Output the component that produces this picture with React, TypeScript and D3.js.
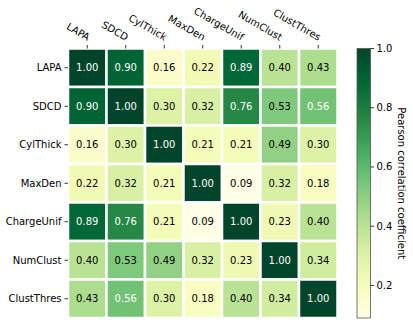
import * as d3 from "d3";

const labels = ["LAPA", "SDCD", "CylThick", "MaxDen", "ChargeUnif", "NumClust", "ClustThres"];

const lapa = [1.0, 0.9, 0.16, 0.22, 0.89, 0.4, 0.43];
const sdcd = [0.9, 1.0, 0.3, 0.32, 0.76, 0.53, 0.56];
const cylThick = [0.16, 0.3, 1.0, 0.21, 0.21, 0.49, 0.3];
const maxDen = [0.22, 0.32, 0.21, 1.0, 0.09, 0.32, 0.18];
const chargeUnif = [0.89, 0.76, 0.21, 0.09, 1.0, 0.23, 0.4];
const numClust = [0.4, 0.53, 0.49, 0.32, 0.23, 1.0, 0.34];
const clustThres = [0.43, 0.56, 0.3, 0.18, 0.4, 0.34, 1.0];

const rows = [lapa, sdcd, cylThick, maxDen, chargeUnif, numClust, clustThres];

const cbarTicks = [0.2, 0.4, 0.6, 0.8, 1.0];
const cbarLabel = "Pearson correlation coefficient";

// matplotlib YlGn stops
const ylgn = ["#ffffe5", "#f7fcb9", "#d9f0a3", "#addd8e", "#78c679", "#41ab5d", "#238443", "#006837", "#004529"];

const width = 413;
const height = 326;
const font = "DejaVu Sans, sans-serif";

const App = () => {
  const vmin = d3.min(rows.flat()) as number;
  const vmax = d3.max(rows.flat()) as number;

  const x = d3.scaleBand().domain(labels).range([68, 337.5]);
  const y = d3.scaleBand().domain(labels).range([48.5, 318]);

  const interp = d3.piecewise(d3.interpolateRgb, ylgn);
  const norm = d3.scaleLinear().domain([vmin, vmax]).range([0, 1]);
  const color = (v: number) => interp(norm(v));

  const cb = { x: 357, w: 13.5 };
  const cy = d3.scaleLinear().domain([vmin, vmax]).range([318, 48.5]);
  const stops = d3.range(0, 1.0001, 0.05);

  return (
    <svg width={width} height={height} style={{ position: "absolute", left: 0, top: 0 }} fontFamily={font}>
      <rect width={width} height={height} fill="white" />
      <defs>
        <linearGradient id="cbar" x1="0" y1="1" x2="0" y2="0">
          {stops.map(s => (
            <stop key={s} offset={s} stopColor={interp(s)} />
          ))}
        </linearGradient>
      </defs>

      {rows.map((row, i) =>
        row.map((v, j) => (
          <g key={`${i}-${j}`}>
            <rect
              x={x(labels[j])}
              y={y(labels[i])}
              width={x.bandwidth()}
              height={y.bandwidth()}
              fill={color(v)}
              stroke="white"
              strokeWidth={2.5}
            />
            <text
              x={(x(labels[j]) as number) + x.bandwidth() / 2}
              y={(y(labels[i]) as number) + y.bandwidth() / 2}
              textAnchor="middle"
              dominantBaseline="central"
              fontSize={10}
              fill={norm(v) > 0.5 ? "white" : "black"}
            >
              {v.toFixed(2)}
            </text>
          </g>
        ))
      )}

      {/* y axis */}
      {labels.map(l => {
        const yy = (y(l) as number) + y.bandwidth() / 2;
        return (
          <g key={"y" + l}>
            <line x1={64.5} x2={68} y1={yy} y2={yy} stroke="black" strokeWidth={0.8} />
            <text x={61.5} y={yy} textAnchor="end" dominantBaseline="central" fontSize={10}>
              {l}
            </text>
          </g>
        );
      })}

      {/* x axis on top */}
      {labels.map(l => {
        const xx = (x(l) as number) + x.bandwidth() / 2;
        return (
          <g key={"x" + l}>
            <line x1={xx} x2={xx} y1={45} y2={48.5} stroke="black" strokeWidth={0.8} />
            <text
              transform={`translate(${xx},${41}) rotate(30)`}
              textAnchor="end"
              fontSize={10}
            >
              {l}
            </text>
          </g>
        );
      })}

      {/* colorbar */}
      <rect x={cb.x} y={cy(vmax)} width={cb.w} height={cy(vmin) - cy(vmax)} fill="url(#cbar)" stroke="#555" strokeWidth={0.8} />
      {cbarTicks.map(t => (
        <g key={"c" + t}>
          <line x1={cb.x + cb.w} x2={cb.x + cb.w + 3.5} y1={cy(t)} y2={cy(t)} stroke="black" strokeWidth={0.8} />
          <text x={cb.x + cb.w + 6} y={cy(t)} dominantBaseline="central" fontSize={10}>
            {t.toFixed(1)}
          </text>
        </g>
      ))}
      <text
        transform={`translate(${401},${(cy(vmin) + cy(vmax)) / 2}) rotate(90)`}
        textAnchor="middle"
        dominantBaseline="central"
        fontSize={10}
      >
        {cbarLabel}
      </text>
    </svg>
  );
};

export default App;
